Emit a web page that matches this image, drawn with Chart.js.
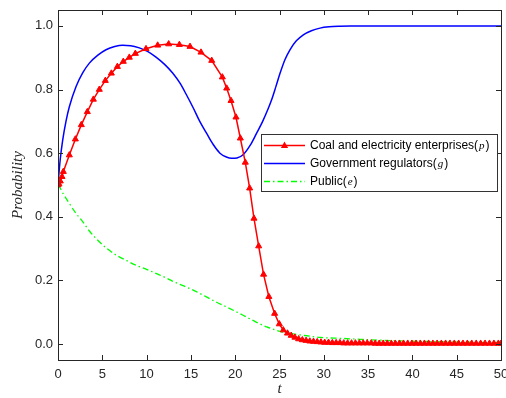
<!DOCTYPE html>
<html>
<head>
<meta charset="utf-8">
<script src="https://cdn.jsdelivr.net/npm/chart.js@4"></script>
<style>
  html, body { margin: 0; padding: 0; background: #fff; }
  #wrap { width: 506px; height: 398px; position: relative; }
</style>
</head>
<body>
<div id="wrap"><canvas id="chart"></canvas></div>
<script>
// coal and electricity enterprises (p)
const tCoal = [0, 0.1, 0.26, 0.45, 0.6, 1.28, 1.96, 2.63, 3.31, 3.99, 4.66, 5.34, 6.02, 6.7, 7.37, 8.05, 8.73,
  9.93, 11.25, 12.49, 13.7, 14.9, 16.14, 17.35, 18.55, 19.04, 19.53, 20.09, 20.58, 21.14, 21.63, 22.12, 22.65,
  23.2, 23.8, 24.45, 24.98, 25.43, 25.9, 26.32, 26.74, 27.16, 27.58, 28.0, 28.42, 28.84, 29.26, 29.68, 30.1,
  30.53, 30.96, 31.39, 31.82, 32.25, 32.69, 33.13, 33.57, 34.01, 34.45, 34.9, 35.35, 35.8, 36.25, 36.7, 37.16,
  37.62, 38.08, 38.54, 39.0, 39.47, 39.94, 40.41, 40.88, 41.35, 41.83, 42.31, 42.79, 43.27, 43.75, 44.24, 44.73,
  45.22, 45.71, 46.2, 46.7, 47.2, 47.7, 48.2, 48.7, 49.2, 49.7, 50.0];
const pCoal = [0.5, 0.503, 0.512, 0.526, 0.542, 0.594, 0.644, 0.689, 0.730, 0.769, 0.800, 0.828, 0.851, 0.872,
  0.888, 0.901, 0.913, 0.928, 0.939, 0.943, 0.941, 0.935, 0.917, 0.891, 0.839, 0.804, 0.765, 0.713, 0.647, 0.571,
  0.49, 0.395, 0.308, 0.219, 0.149, 0.096, 0.063, 0.044, 0.034, 0.027, 0.021, 0.016, 0.013, 0.011, 0.009, 0.008,
  0.007, 0.006, 0.005, 0.005, 0.004, 0.004, 0.004, 0.003, 0.003, 0.003, 0.003, 0.003, 0.003, 0.003, 0.003, 0.002,
  0.002, 0.002, 0.002, 0.002, 0.002, 0.002, 0.002, 0.002, 0.002, 0.002, 0.002, 0.002, 0.002, 0.002, 0.002, 0.002,
  0.002, 0.002, 0.002, 0.002, 0.002, 0.002, 0.002, 0.002, 0.002, 0.002, 0.002, 0.002, 0.002, 0.002];

// government regulators (g)
const tGov = [0, 0.25, 0.53, 0.9, 1.28, 2.03, 2.8, 3.54, 4.5, 5.42, 6.4, 7.3, 8.2, 9.18, 10.1, 11.06, 12.0, 12.94,
  13.77, 14.45, 15.27, 16.0, 16.78, 17.5, 18.28, 19.0, 19.6, 20.2, 20.92, 21.7, 22.42, 23.1, 23.74, 24.1, 24.6,
  25.06, 25.6, 26.18, 26.9, 27.69, 28.6, 29.57, 30.6, 31.8, 33, 35, 40, 45, 50];
const gGov = [0.5, 0.58, 0.641, 0.70, 0.746, 0.809, 0.853, 0.883, 0.908, 0.925, 0.935, 0.939, 0.938, 0.931, 0.920,
  0.902, 0.880, 0.852, 0.820, 0.786, 0.742, 0.700, 0.662, 0.628, 0.600, 0.588, 0.584, 0.585, 0.596, 0.625, 0.663,
  0.70, 0.741, 0.767, 0.81, 0.851, 0.893, 0.925, 0.953, 0.972, 0.985, 0.993, 0.997, 0.999, 1.0, 1.0, 1.0, 1.0, 1.0];

// public (e)
const tPub = [0, 0.15, 0.6, 1.28, 2.0, 2.78, 3.5, 4.29, 5.4, 6.55, 7.7, 8.8, 10, 11.06, 12.2, 13.3, 14.5, 15.6,
  16.7, 17.8, 19.0, 20.1, 21.2, 22.3, 23.55, 24.5, 25.06, 25.8, 27.3, 29.6, 32, 34.1, 38.6, 42, 46, 50];
const ePub = [0.5, 0.495, 0.472, 0.442, 0.412, 0.385, 0.357, 0.332, 0.303, 0.28, 0.263, 0.248, 0.235, 0.222, 0.208,
  0.193, 0.179, 0.165, 0.149, 0.133, 0.117, 0.102, 0.086, 0.07, 0.054, 0.045, 0.040, 0.035, 0.029, 0.021, 0.018,
  0.015, 0.010, 0.008, 0.006, 0.005];

const xTicks = [0, 5, 10, 15, 20, 25, 30, 35, 40, 45, 50];
const yTicks = [0, 0.2, 0.4, 0.6, 0.8, 1.0];

const legendItems = [
  { name: "Coal and electricity enterprises(", sym: "p", color: "#ff0000", dash: [], marker: true },
  { name: "Government regulators(", sym: "g", color: "#0000ff", dash: [], marker: false },
  { name: "Public(", sym: "e", color: "#00ff00", dash: [6, 3, 1.5, 3], marker: false },
];

const AXIS_COLOR = "#262626";
const SANS = "Arial, 'Liberation Sans', sans-serif";
const SERIF = "'Times New Roman', 'Liberation Serif', serif";

function pts(xs, ys) {
  return xs.map((x, i) => ({ x: x, y: ys[i] }));
}

function drawTriangle(ctx, x, y, r) {
  ctx.beginPath();
  ctx.moveTo(x, y - r);
  ctx.lineTo(x + r * 0.9, y + r * 0.6);
  ctx.lineTo(x - r * 0.9, y + r * 0.6);
  ctx.closePath();
  ctx.fill();
}

// box around the plot with inward ticks, like matlab
const boxPlugin = {
  id: "box",
  afterDatasetsDraw(chart) {
    const { ctx, chartArea: a, scales } = chart;
    ctx.save();
    ctx.strokeStyle = AXIS_COLOR;
    ctx.lineWidth = 1;
    ctx.strokeRect(Math.round(a.left) + 0.5, Math.round(a.top) + 0.5,
      Math.round(a.right - a.left), Math.round(a.bottom - a.top));
    const len = 5;
    ctx.beginPath();
    xTicks.forEach((v) => {
      const px = Math.round(scales.x.getPixelForValue(v)) + 0.5;
      ctx.moveTo(px, a.bottom);
      ctx.lineTo(px, a.bottom - len);
      ctx.moveTo(px, a.top);
      ctx.lineTo(px, a.top + len);
    });
    yTicks.forEach((v) => {
      const py = Math.round(scales.y.getPixelForValue(v)) + 0.5;
      ctx.moveTo(a.left, py);
      ctx.lineTo(a.left + len, py);
      ctx.moveTo(a.right, py);
      ctx.lineTo(a.right - len, py);
    });
    ctx.stroke();
    ctx.restore();
  },
  afterDraw(chart) {
    const ctx = chart.ctx;
    const bx = 261, by = 134, bw = 236, bh = 57;
    ctx.save();
    ctx.fillStyle = "#fff";
    ctx.fillRect(bx, by, bw, bh);
    ctx.strokeStyle = "#333";
    ctx.lineWidth = 1;
    ctx.strokeRect(bx + 0.5, by + 0.5, bw, bh);
    legendItems.forEach((it, i) => {
      const y = by + 11.5 + i * 18;
      ctx.strokeStyle = it.color;
      ctx.lineWidth = it.marker ? 1.5 : 1.3;
      ctx.setLineDash(it.dash);
      ctx.beginPath();
      ctx.moveTo(264, y);
      ctx.lineTo(305, y);
      ctx.stroke();
      ctx.setLineDash([]);
      if (it.marker) {
        ctx.fillStyle = it.color;
        drawTriangle(ctx, 284.5, y, 4);
      }
      ctx.fillStyle = "#000";
      ctx.textBaseline = "middle";
      ctx.textAlign = "left";
      ctx.font = "12px " + SANS;
      let x = 310;
      ctx.fillText(it.name, x, y);
      x += ctx.measureText(it.name).width + 1;
      ctx.font = "italic 11px " + SERIF;
      ctx.fillText(it.sym, x, y + 1);
      x += ctx.measureText(it.sym).width + 1;
      ctx.font = "12px " + SANS;
      ctx.fillText(")", x, y);
    });
    ctx.restore();
  },
};

new Chart(document.getElementById("chart"), {
  type: "line",
  data: {
    datasets: [
      {
        label: "Coal and electricity enterprises(p)",
        data: pts(tCoal, pCoal),
        borderColor: "#ff0000",
        backgroundColor: "#ff0000",
        borderWidth: 1.5,
        pointStyle: "triangle",
        pointRadius: 3.5,
        pointBorderWidth: 1,
        tension: 0,
      },
      {
        label: "Government regulators(g)",
        data: pts(tGov, gGov),
        borderColor: "#0000ff",
        borderWidth: 1.5,
        pointRadius: 0,
        cubicInterpolationMode: "monotone",
      },
      {
        label: "Public(e)",
        data: pts(tPub, ePub),
        borderColor: "#00ff00",
        borderWidth: 1.3,
        borderDash: [6, 3, 1.5, 3],
        pointRadius: 0,
        cubicInterpolationMode: "monotone",
      },
    ],
  },
  options: {
    responsive: true,
    maintainAspectRatio: false,
    animation: false,
    layout: { padding: { left: 0, top: 10, right: 5, bottom: 0 } },
    plugins: {
      legend: { display: false },
      tooltip: { enabled: false },
    },
    scales: {
      x: {
        type: "linear",
        min: 0,
        max: 50,
        afterFit: (s) => { s.height = 38; s.paddingLeft = 0; s.paddingRight = 0; },
        afterBuildTicks: (s) => { s.ticks = xTicks.map((v) => ({ value: v })); },
        grid: { display: false, drawTicks: false },
        border: { display: false },
        ticks: {
          autoSkip: false,
          maxRotation: 0,
          padding: 7,
          color: AXIS_COLOR,
          font: { family: SANS, size: 13 },
        },
        title: {
          display: true,
          text: "t",
          color: AXIS_COLOR,
          font: { family: SERIF, size: 15, style: "italic" },
          padding: { top: 0, bottom: 0 },
        },
      },
      y: {
        min: -0.05,
        max: 1.05,
        afterFit: (s) => { s.width = 58; s.paddingTop = 0; s.paddingBottom = 0; },
        afterBuildTicks: (s) => { s.ticks = yTicks.map((v) => ({ value: v })); },
        grid: { display: false, drawTicks: false },
        border: { display: false },
        ticks: {
          autoSkip: false,
          padding: 5,
          color: AXIS_COLOR,
          font: { family: SANS, size: 13 },
          callback: (v) => Number(v).toFixed(1),
        },
        title: {
          display: true,
          text: "Probability",
          color: AXIS_COLOR,
          font: { family: SERIF, size: 15, style: "italic" },
          padding: { top: 9, bottom: 0 },
        },
      },
    },
  },
  plugins: [boxPlugin],
});
</script>
</body>
</html>
